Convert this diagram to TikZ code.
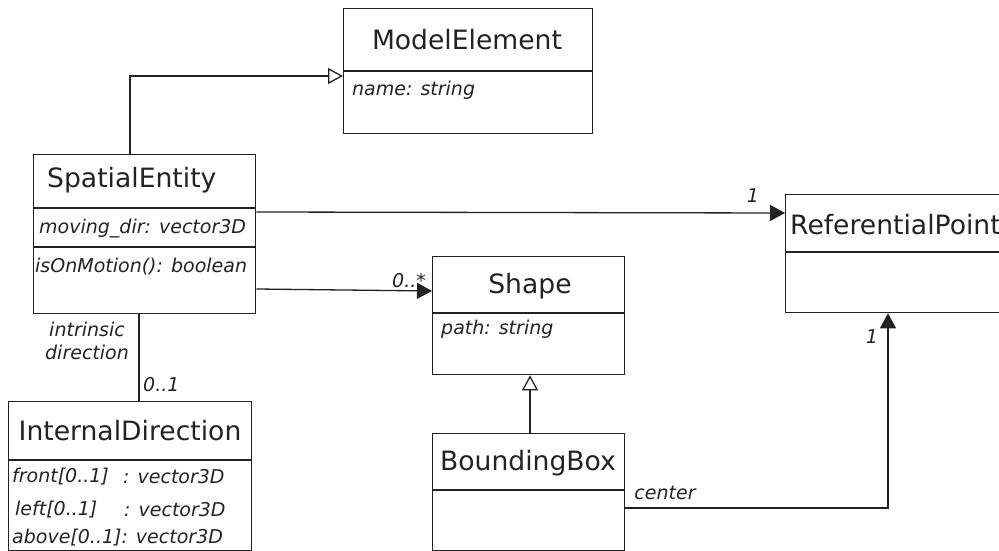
\documentclass[tikz,border=0pt]{standalone}
\usepackage{fontspec}
\setmainfont{DejaVu Sans}[ItalicFont={DejaVu Sans Oblique}]
\usetikzlibrary{arrows.meta,calc}
\definecolor{ink}{HTML}{222222}
\begin{document}
\begin{tikzpicture}[x=1pt,y=-1pt,
  cls/.style={draw=ink, line width=1.3pt, rectangle, inner sep=0pt, anchor=north west},
  div/.style={draw=ink, line width=1.3pt},
  title/.style={font=\fontsize{26.6}{30}\selectfont, text=ink, inner sep=0pt},
  attr/.style={font=\fontsize{19}{23}\selectfont\itshape, text=ink, inner sep=0pt, anchor=west},
  lbl/.style={font=\fontsize{19}{23}\selectfont\itshape, text=ink, inner sep=0pt},
  conn/.style={draw=ink, line width=1.3pt},
  assoc/.style={conn, -{Triangle[length=15pt,width=16pt]}},
  gen/.style={conn, -{Triangle[open,length=15pt,width=16pt,fill=white]}},
]
\useasboundingbox (0,0) rectangle (999,551);

% ModelElement
\node[cls, minimum width=249pt, minimum height=125pt] (me) at (343,8) {};
\draw[div] ($(me.north west)+(0,63)$) -- ($(me.north east)+(0,63)$);
\node[title] (meT) at (467,40) {ModelElement};
\node[attr] (meA) at (352,90) {name: string};

% SpatialEntity
\node[cls, minimum width=222pt, minimum height=159pt] (se) at (33,154) {};
\draw[div] ($(se.north west)+(0,54)$) -- ($(se.north east)+(0,54)$);
\draw[div] ($(se.north west)+(0,93)$) -- ($(se.north east)+(0,93)$);
\node[title, anchor=west] (seT) at (47,180) {SpatialEntity};
\node[attr] (seA) at (39,229) {moving\_dir: vector3D};
\node[attr] (seO) at (35,267) {isOnMotion(): boolean};

% InternalDirection
\node[cls, minimum width=243pt, minimum height=149pt] (id) at (8,401) {};
\draw[div] ($(id.north west)+(0,59)$) -- ($(id.north east)+(0,59)$);
\node[title] (idT) at (130,431) {InternalDirection};
\node[attr] (idF) at (12,477) {front[0..1]};
\node[attr] (idFc) at (123,477) {: vector3D};
\node[attr] (idL) at (15,510) {left[0..1]};
\node[attr] (idLc) at (124,510) {: vector3D};
\node[attr] (idA) at (12,538) {above[0..1]: vector3D};

% Shape
\node[cls, minimum width=192pt, minimum height=118pt] (sh) at (432,256) {};
\draw[div] ($(sh.north west)+(0,57)$) -- ($(sh.north east)+(0,57)$);
\node[title] (shT) at (530,286) {Shape};
\node[attr] (shA) at (441,329) {path: string};

% BoundingBox
\node[cls, minimum width=192pt, minimum height=117pt] (bb) at (432,433) {};
\draw[div] ($(bb.north west)+(0,57)$) -- ($(bb.north east)+(0,57)$);
\node[title] (bbT) at (528,463) {BoundingBox};

% ReferentialPoint
\node[cls, minimum width=240pt, minimum height=118pt] (rp) at (785,194) {};
\draw[div] ($(rp.north west)+(0,58)$) -- ($(rp.north east)+(0,58)$);
\node[title, anchor=west] (rpT) at (790,225) {ReferentialPoint};

% connectors
\draw[gen] ($(se.north west)+(97,0)$) |- ($(me.north west)+(0,68)$);
\draw[assoc] ($(se.north east)+(0,58)$) -- ($(rp.north west)+(0,19)$);
\draw[assoc] ($(se.north east)+(0,135)$) -- ($(sh.north west)+(0,35)$);
\draw[conn] ($(se.south west)+(106,0)$) -- ($(id.north west)+(131,0)$);
\draw[gen] ($(bb.north west)+(98,0)$) -- ($(sh.south west)+(98,0)$);
\draw[assoc] ($(bb.north east)+(0,75)$) -| ($(rp.south west)+(103,0)$);

% labels
\node[lbl] (l1) at (753,196) {1};
\node[lbl] (l2) at (409,281) {0..*};
\node[lbl] (l3) at (872,337) {1};
\node[lbl] (l4) at (665,493) {center};
\node[lbl, align=center] (l5) at (87,341) {intrinsic\\direction};
\node[lbl, anchor=west] (l6) at (143,385) {0..1};
\end{tikzpicture}
\end{document}
